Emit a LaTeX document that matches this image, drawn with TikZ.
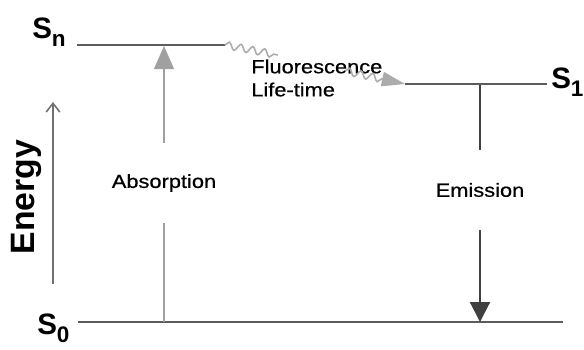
\documentclass[tikz,border=0pt]{standalone}
\usepackage{fontspec}
\setmainfont{Liberation Sans}
\newfontfamily\widefont{Liberation Sans}[FakeStretch=1.15,FakeBold=0.6]
\usetikzlibrary{arrows.meta,decorations.pathmorphing,positioning}
\definecolor{levelgray}{HTML}{5C5C5C}
\definecolor{absgray}{HTML}{A0A0A0}
\definecolor{emigray}{HTML}{404040}
\definecolor{wavegray}{HTML}{ABABAB}
\definecolor{axisgray}{HTML}{707070}
\newcommand\StateSub[1]{S\raisebox{-6pt}{\fontsize{16}{16}\selectfont #1}}
\tikzset{
  level/.style={
    draw=levelgray,
    line width=1.8pt
  },
  statelabel/.style={
    anchor=base west,
    inner sep=0pt,
    font=\fontsize{21}{24}\selectfont\bfseries
  },
  transition/.style={
    inner sep=0pt,
    minimum height=2cm,
    font=\widefont\fontsize{13.5}{16.4}\selectfont
  },
  absorb/.style={
    draw=absgray,
    line width=1.1pt
  },
  emit/.style={
    draw=emigray,
    line width=1.5pt
  },
  wave/.style={
    draw=wavegray,
    line width=1.1pt,
    decorate,
    decoration={snake,amplitude=0.9mm,segment length=3mm,post length=5mm}
  }
}
\begin{document}
\begin{tikzpicture}[x=0.025cm,y=-0.025cm]
    \useasboundingbox (0,0) rectangle (584,349);

    \coordinate (SnL) at (77,45);
    \coordinate (SnR) at (225,45);
    \coordinate (S1L) at (405,84);
    \coordinate (S1R) at (547,84);
    \coordinate (S0L) at (78,322);
    \coordinate (S0R) at (563,322);
    \draw[level] (SnL) -- (SnR);
    \draw[level] (S1L) -- (S1R);
    \draw[level] (S0L) -- (S0R);

    \node[statelabel] (lSn) at (32,38) {\StateSub{n}};
    \node[statelabel] (lS1) at (551,88) {\StateSub{1}};
    \node[statelabel] (lS0) at (37,334) {\StateSub{0}};

    % energy axis
    \coordinate (eB) at (53,284);
    \coordinate (eT) at (53,102);
    \draw[draw=axisgray, line width=1.1pt, -{Straight Barb[length=2.2mm,width=3.4mm]}] (eB) -- (eT);
    \node[rotate=90, inner sep=0pt, font=\fontsize{24}{28}\selectfont\bfseries] (energy) at (26,197) {Energy};

    % absorption
    \coordinate (absB) at (164,322);
    \coordinate (absT) at (164,46);
    \node[transition] (abs) at (164,183) {Absorption};
    \draw[absorb] (absB) -- (abs);
    \draw[absorb, -{Triangle[length=5.8mm,width=5mm]}, color=absgray] (abs) -- (absT);

    % emission
    \coordinate (emiT) at (480,85);
    \coordinate (emiB) at (480,322);
    \node[transition] (emi) at (480,190) {Emission};
    \draw[emit] (emiT) -- (emi);
    \draw[emit, -{Triangle[length=5mm,width=5mm]}, color=emigray] (emi) -- (emiB);

    % relaxation
    \node[transition, minimum height=0pt, anchor=west, align=left] (fluo) at (251,78) {Fluorescence\\Life-time};
    \coordinate (w1) at (278,55);
    \coordinate (w2) at (345,71);
    \draw[wave, decoration={post length=0mm}] (SnR) -- (w1);
    \draw[wave, -{Triangle[length=5.8mm,width=3.6mm]}, color=wavegray] (w2) -- (S1L);
\end{tikzpicture}
\end{document}
